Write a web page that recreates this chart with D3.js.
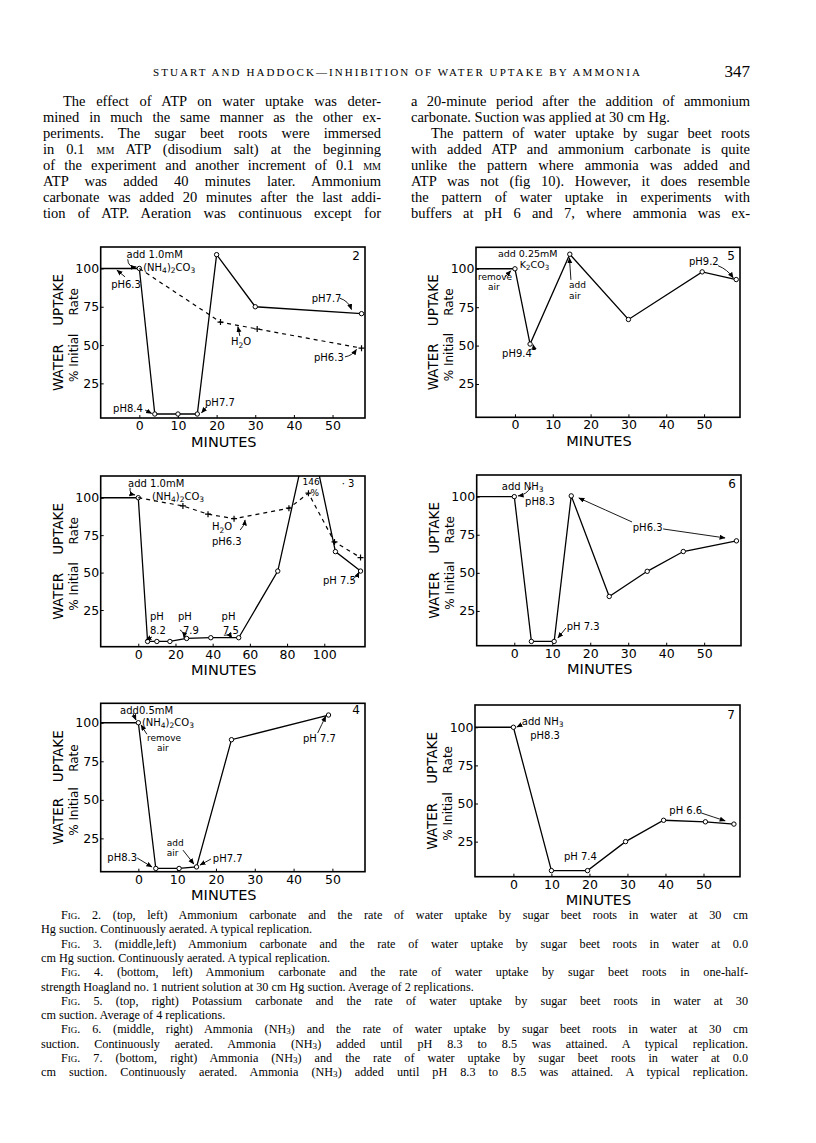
<!DOCTYPE html>
<html>
<head>
<meta charset="utf-8">
<script src="https://cdn.jsdelivr.net/npm/d3@7"></script>
<style>
  body { margin: 0; background: #fff; }
  .chart text { font-family: "DejaVu Sans", sans-serif; fill: #000; }
  .page text { font-family: "Liberation Serif", "Times New Roman", serif; fill: #000; }
</style>
</head>
<body>
<svg id="page" width="816" height="1143"></svg>
<script>
// ---- data (minutes, % of initial rate) ----
const yTicks = [25, 50, 75, 100];
const xTicksHour = [0, 10, 20, 30, 40, 50];
const xTicksLong = [0, 20, 40, 60, 80, 100];

// fig 2 : ammonium carbonate, 30 cm Hg
const fig2Minutes = [0, 4, 10, 15, 20, 30, 57.5];
const fig2Uptake = [100, 5, 5, 5, 109, 75, 70.5];
const fig2WaterMinutes = [0, 21, 30.5, 57.5];
const fig2WaterUptake = [100, 65, 60.5, 48];

// fig 5 : potassium carbonate
const fig5Minutes = [0, 4, 14.5, 30, 49.5, 58.5];
const fig5Uptake = [100, 51, 109.5, 67, 98, 93];

// fig 3 : ammonium carbonate, 0.0 cm Hg
const fig3Minutes = [0, 5, 10, 17, 26, 39, 54, 75, 92, 106, 119.5];
const fig3Uptake = [100, 4, 4, 4, 6, 6.5, 6.5, 51, 146, 64, 51];
const fig3WaterMinutes = [0, 24, 37.5, 51.5, 81, 91.5, 105.5, 119.5];
const fig3WaterUptake = [100, 94.5, 89, 86, 93, 103, 70.5, 60];

// fig 6 : ammonia, 30 cm
const fig6Minutes = [0, 4.5, 10.5, 15, 25, 35, 44.5, 58.5];
const fig6Uptake = [100, 5, 5, 100.5, 34.5, 51, 64, 71];

// fig 4 : half strength Hoagland
const fig4Minutes = [0, 4.5, 10.5, 15, 24, 49];
const fig4Uptake = [100, 5.5, 5.5, 6.5, 89, 105];

// fig 7 : ammonia, 0.0 cm
const fig7Minutes = [0, 10, 19.5, 29.5, 39.5, 50.5, 58];
const fig7Uptake = [100, 6, 6, 25, 39, 38, 36.5];

// ---- page text ----
const headerText = "STUART AND HADDOCK\u2014INHIBITION OF WATER UPTAKE BY AMMONIA";
const pageNumber = "347";
// [text, indented, justified]
const leftColumn = [
  ["The effect of ATP on water uptake was deter-", 1, 1],
  ["mined in much the same manner as the other ex-", 0, 1],
  ["periments. The sugar beet roots were immersed", 0, 1],
  ["in 0.1 {mm} ATP (disodium salt) at the beginning", 0, 1],
  ["of the experiment and another increment of 0.1 {mm}", 0, 1],
  ["ATP was added 40 minutes later. Ammonium", 0, 1],
  ["carbonate was added 20 minutes after the last addi-", 0, 1],
  ["tion of ATP. Aeration was continuous except for", 0, 1]
];
const rightColumn = [
  ["a 20-minute period after the addition of ammonium", 0, 1],
  ["carbonate. Suction was applied at 30 cm Hg.", 0, 0],
  ["The pattern of water uptake by sugar beet roots", 1, 1],
  ["with added ATP and ammonium carbonate is quite", 0, 1],
  ["unlike the pattern where ammonia was added and", 0, 1],
  ["ATP was not (fig 10). However, it does resemble", 0, 1],
  ["the pattern of water uptake in experiments with", 0, 1],
  ["buffers at pH 6 and 7, where ammonia was ex-", 0, 1]
];
const captionLines = [
  ["{Fig.} 2. (top, left) Ammonium carbonate and the rate of water uptake by sugar beet roots in water at 30 cm", 1, 1],
  ["Hg suction. Continuously aerated. A typical replication.", 0, 0],
  ["{Fig.} 3. (middle,left) Ammonium carbonate and the rate of water uptake by sugar beet roots in water at 0.0", 1, 1],
  ["cm Hg suction. Continuously aerated. A typical replication.", 0, 0],
  ["{Fig.} 4. (bottom, left) Ammonium carbonate and the rate of water uptake by sugar beet roots in one-half-", 1, 1],
  ["strength Hoagland no. 1 nutrient solution at 30 cm Hg suction. Average of 2 replications.", 0, 0],
  ["{Fig.} 5. (top, right) Potassium carbonate and the rate of water uptake by sugar beet roots in water at 30", 1, 1],
  ["cm suction. Average of 4 replications.", 0, 0],
  ["{Fig.} 6. (middle, right) Ammonia (NH_3) and the rate of water uptake by sugar beet roots in water at 30 cm", 1, 1],
  ["suction. Continuously aerated. Ammonia (NH_3) added until pH 8.3 to 8.5 was attained. A typical replication.", 0, 1],
  ["{Fig.} 7. (bottom, right) Ammonia (NH_3) and the rate of water uptake by sugar beet roots in water at 0.0", 1, 1],
  ["cm suction. Continuously aerated. Ammonia (NH_3) added until pH 8.3 to 8.5 was attained. A typical replication.", 0, 1]
];

const svg = d3.select("#page");
svg.append("rect").attr("width", 816).attr("height", 1143).attr("fill", "#fff");
const defs = svg.append("defs");
defs.append("marker")
  .attr("id", "arrow")
  .attr("markerUnits", "userSpaceOnUse")
  .attr("markerWidth", 7).attr("markerHeight", 6)
  .attr("refX", 5.5).attr("refY", 2.5)
  .attr("orient", "auto")
  .append("path").attr("d", "M0,0 L6,2.5 L0,5 Z").attr("fill", "#000");

// text with _x subscripts and {..} small caps
// drop is in em of the surrounding text
function richText(sel, str, drop = 0.3) {
  const parts = str.split(/(_.|\{[^}]*\})/).filter(s => s);
  let low = false;
  parts.forEach(p => {
    const t = sel.append("tspan");
    if (p[0] === "_") {
      // the tspan is at 0.75em, so its own em is smaller
      t.attr("dy", low ? null : (drop / 0.75) + "em").style("font-size", "0.75em").text(p[1]);
      low = true;
    } else {
      if (low) { t.attr("dy", -drop + "em"); low = false; }
      if (p[0] === "{") t.style("font-variant", "small-caps").text(p.slice(1, -1));
      else t.text(p);
    }
  });
  return sel;
}

// ---- header, body text, caption ----
const page = svg.append("g").attr("class", "page");
page.append("text").attr("x", 153).attr("y", 76)
  .attr("textLength", 487).attr("lengthAdjust", "spacing")
  .style("font-size", "11px").text(headerText);
page.append("text").attr("x", 750).attr("y", 77).attr("text-anchor", "end")
  .style("font-size", "17px").text(pageNumber);

function textLine(x, y, width, line, size, indent) {
  const [str, ind, just] = line;
  const x0 = x + (ind ? indent : 0);
  const w = width - (ind ? indent : 0);
  const t = page.append("text").attr("x", x0).attr("y", y).style("font-size", size + "px");
  richText(t, str, 0.09);
  if (just) {
    const plain = str.replace(/[{}_]/g, "");
    const gaps = (plain.match(/ /g) || []).length;
    const len = t.node().getComputedTextLength();
    if (gaps) t.style("word-spacing", ((w - len) / gaps) + "px");
  }
}
leftColumn.forEach((l, i) => textLine(43, 106 + i * 16, 338, l, 14.5, 20));
rightColumn.forEach((l, i) => textLine(411, 106 + i * 16, 339, l, 14.5, 20));
captionLines.forEach((l, i) => textLine(41, 919 + i * 14.3, 707, l, 12.2, 20));

// ---- the six panels ----
// notes: lines of text at (m, v); later lines shifted by dx px and stacked dy px apart
const panels = [
  {
    id: "2", frame: [100.7, 247, 365, 418], xDomain: [-10, 58.4], yDomain: [2.4, 114], xTicks: xTicksHour,
    series: [
      { minutes: fig2Minutes, values: fig2Uptake, dashed: false, mark: "o" },
      { minutes: fig2WaterMinutes, values: fig2WaterUptake, dashed: true, mark: "+" }
    ],
    notes: [
      { t: ["add 1.0mM", "(NH_4)_2CO_3"], m: -3.3, v: 109.3, dx: [0, 16.6], dy: 13 },
      { t: ["pH6.3"], m: -7.3, v: 89.8 }, { t: ["pH7.7"], m: 44.6, v: 80.6 },
      { t: ["H_2O"], m: 23.7, v: 52.1 }, { t: ["pH6.3"], m: 45.2, v: 42.1 },
      { t: ["pH8.4"], m: -6.8, v: 8.9 }, { t: ["pH7.7"], m: 17, v: 12.3 }
    ],
    arrows: [
      { from: [-3, 106], to: [-0.8, 101], bend: 3 }, { from: [-3.7, 94.5], to: [-5.8, 98.9], bend: 0 },
      { from: [51.9, 80.6], to: [54.9, 73.2], bend: -2 }, { from: [26, 56], to: [25.5, 62], bend: 0 },
      { from: [53.2, 42.3], to: [56.2, 47.2], bend: 1.5 }, { from: [1.5, 7.6], to: [3.2, 5.4], bend: 0 },
      { from: [17.4, 9.7], to: [16.1, 5.8], bend: 0 }
    ]
  },
  {
    id: "5", frame: [476, 247.3, 740, 417.3], xDomain: [-10.3, 59.5], yDomain: [3.3, 114], xTicks: xTicksHour,
    series: [{ minutes: fig5Minutes, values: fig5Uptake, dashed: false, mark: "o" }],
    notes: [
      { t: ["add 0.25mM", "K_2CO_3"], m: -4.5, v: 110, dx: [0, 21.9], dy: 11.2, size: 9.5 },
      { t: ["remove", "air"], m: -9.8, v: 95, dx: [0, 10], dy: 10.5, size: 9 },
      { t: ["add", "air"], m: 14.3, v: 89.5, dx: [0, 0], dy: 10.5, size: 9 },
      { t: ["pH9.2"], m: 46, v: 104.6 }, { t: ["pH9.4"], m: -3.4, v: 45.2 }
    ],
    arrows: [
      { from: [-2.6, 94.8], to: [-1.1, 98.7], bend: 0 }, { from: [14.8, 92.8], to: [14.4, 107.2], bend: 0 },
      { from: [53.7, 102], to: [57.7, 94.1], bend: -1.5 }, { from: [4, 47.4], to: [4.8, 50.6], bend: 1.5 }
    ]
  },
  {
    id: "3", frame: [100.7, 476, 365, 646.7], xDomain: [-20.2, 121.9], yDomain: [0.5, 114.5], xTicks: xTicksLong,
    series: [
      { minutes: fig3Minutes, values: fig3Uptake, dashed: false, mark: "o" },
      { minutes: fig3WaterMinutes, values: fig3WaterUptake, dashed: true, mark: "+" }
    ],
    notes: [
      { t: ["add 1.0mM", "(NH_4)_2CO_3"], m: -5.5, v: 109.8, dx: [0, 24], dy: 13 },
      { t: ["H_2O", "pH6.3"], m: 39.6, v: 80.6, dx: [0, 0], dy: 15 },
      { t: ["146", "%"], m: 88.3, v: 110.5, dx: [0, 8], dy: 10.5, size: 9 },
      { t: ["\u00b7  3"], m: 109.4, v: 109.8 }, { t: ["pH 7.5"], m: 99.3, v: 45 },
      { t: ["pH", "8.2"], m: 6.3, v: 20.5, dx: [0, 0], dy: 14 },
      { t: ["pH", "7.9"], m: 21.3, v: 20.5, dx: [0, 5], dy: 14 },
      { t: ["pH", "7.5"], m: 44.8, v: 20.5, dx: [0, 1.3], dy: 14 }
    ],
    arrows: [
      { from: [-4.4, 106.5], to: [-1.8, 101.8], bend: 2 }, { from: [54.8, 78.4], to: [57.4, 85.1], bend: 1 },
      { from: [114.4, 45], to: [118.7, 50.3], bend: 1 }, { from: [7.4, 7], to: [4.1, 5], bend: 0 },
      { from: [22.4, 11.7], to: [24.6, 6.4], bend: -1.5 }, { from: [46, 8.2], to: [50.4, 6.4], bend: -1.5 }
    ]
  },
  {
    id: "6", frame: [476.7, 475, 741, 645.7], xDomain: [-9.9, 59.7], yDomain: [2.2, 114.2], xTicks: xTicksHour,
    series: [{ minutes: fig6Minutes, values: fig6Uptake, dashed: false, mark: "o" }],
    notes: [
      { t: ["add NH_3", "pH8.3"], m: -3.3, v: 106.6, dx: [0, 23.3], dy: 15 },
      { t: ["pH6.3"], m: 31.2, v: 80.1 }, { t: ["pH 7.3"], m: 13.8, v: 14.7 }
    ],
    arrows: [
      { from: [4.4, 106.4], to: [1, 100.5], bend: -2 }, { from: [31, 83.4], to: [17, 99.1], bend: 0 },
      { from: [39.2, 78.8], to: [55.5, 72.9], bend: 0 }, { from: [13.6, 13.8], to: [11.5, 7.3], bend: 0 }
    ]
  },
  {
    id: "4", frame: [100.7, 703.3, 365, 871.7], xDomain: [-9.7, 58.4], yDomain: [3.4, 112.6], xTicks: xTicksHour,
    series: [{ minutes: fig4Minutes, values: fig4Uptake, dashed: false, mark: "o" }],
    notes: [
      { t: ["add0.5mM", "(NH_4)_2CO_3"], m: -4.7, v: 108.2, dx: [0, 21.8], dy: 12.3 },
      { t: ["remove", "air"], m: 2.2, v: 90.5, dx: [0, 10], dy: 10.5, size: 9 },
      { t: ["pH 7.7"], m: 42.4, v: 89.9 }, { t: ["pH8.3"], m: -8, v: 12.4 },
      { t: ["add", "air"], m: 7.3, v: 22.3, dx: [0, 0], dy: 10.5, size: 9 }, { t: ["pH7.7"], m: 19.2, v: 12.1 }
    ],
    arrows: [
      { from: [-1.4, 106.3], to: [-0.6, 101.8], bend: 0 }, { from: [2.2, 92.5], to: [0.7, 98.5], bend: 0 },
      { from: [46.2, 93.3], to: [48.3, 104.3], bend: 0 }, { from: [-0.3, 12.3], to: [3.5, 6.5], bend: 0 },
      { from: [11.5, 17.4], to: [14.3, 8.4], bend: 0 }, { from: [18.7, 11.6], to: [15.9, 7.7], bend: 0 }
    ]
  },
  {
    id: "7", frame: [475, 705, 740, 876.7], xDomain: [-10.1, 59.6], yDomain: [2, 114.6], xTicks: xTicksHour,
    series: [{ minutes: fig7Minutes, values: fig7Uptake, dashed: false, mark: "o" }],
    notes: [
      { t: ["add NH_3", "pH8.3"], m: 2.2, v: 103.7, dx: [0, 8.4], dy: 13.3 },
      { t: ["pH 6.6"], m: 41, v: 45.8 }, { t: ["pH 7.4"], m: 13.3, v: 15.1 }
    ],
    arrows: [
      { from: [2.0, 101.5], to: [0.9, 100.2], bend: 0 }, { from: [49.4, 43.8], to: [55.7, 38.6], bend: 0 }
    ]
  }
];

function drawPanel(p, idx) {
  const [L, T, R, B] = p.frame;
  const x = d3.scaleLinear().domain(p.xDomain).range([L, R]);
  const y = d3.scaleLinear().domain(p.yDomain).range([B, T]);
  const g = svg.append("g").attr("class", "chart");
  const clipId = "clip" + idx;
  defs.append("clipPath").attr("id", clipId)
    .append("rect").attr("x", L).attr("y", T).attr("width", R - L).attr("height", B - T);

  // axes
  const ya = g.append("g").attr("transform", `translate(${L},0)`)
    .call(d3.axisLeft(y).tickValues(yTicks).tickSize(-3).tickPadding(1.5));
  const xa = g.append("g").attr("transform", `translate(0,${B})`)
    .call(d3.axisBottom(x).tickValues(p.xTicks).tickSize(-3).tickPadding(3));
  [ya, xa].forEach(a => {
    a.select(".domain").remove();
    a.selectAll("line").attr("stroke", "#000").attr("stroke-width", 1);
    a.selectAll("text").style("font-size", "12.5px").attr("fill", "#000");
  });

  g.append("rect").attr("x", L).attr("y", T).attr("width", R - L).attr("height", B - T)
    .attr("fill", "none").attr("stroke", "#000").attr("stroke-width", 1.6);

  // titles
  g.append("text").attr("x", (L + R) / 2 - 9).attr("y", B + 23.5)
    .attr("text-anchor", "middle").attr("dominant-baseline", "central")
    .style("font-size", "14.5px").text("MINUTES");
  const ylab = (cx, cy, anchor, size, str) =>
    g.append("text").attr("transform", `translate(${cx},${cy}) rotate(-90)`)
      .attr("text-anchor", anchor).attr("dominant-baseline", "central")
      .style("font-size", size + "px").text(str);
  ylab(L - 43, B - 27, "start", 13.5, "WATER");
  ylab(L - 43, T + 27, "end", 13.5, "UPTAKE");
  ylab(L - 27, B - 36, "start", 12, "% Initial");
  ylab(L - 27, T + 41, "end", 12, "Rate");

  // panel number (fig 3 carries its own with a dot)
  if (p.id !== "3") {
    g.append("text").attr("x", R - 5).attr("y", y(108.5) + 4.2).attr("text-anchor", "end")
      .style("font-size", "12px").text(p.id);
  }

  const plot = g.append("g").attr("clip-path", `url(#${clipId})`);
  const line = d3.line().x(d => x(d[0])).y(d => y(d[1]));

  // level before the addition
  const s0 = p.series[0];
  plot.append("path")
    .attr("d", line([[p.xDomain[0], s0.values[0]], [s0.minutes[0], s0.values[0]]]))
    .attr("fill", "none").attr("stroke", "#000").attr("stroke-width", 1.4);

  p.series.forEach(s => {
    const pts = s.minutes.map((m, i) => [m, s.values[i]]);
    plot.append("path").attr("d", line(pts))
      .attr("fill", "none").attr("stroke", "#000").attr("stroke-width", s.dashed ? 1.2 : 1.3)
      .attr("stroke-dasharray", s.dashed ? "4,4" : null);
    const shown = pts.filter((d, i) => d[1] <= p.yDomain[1] && !(s.mark === "+" && i === 0));
    if (s.mark === "o") {
      plot.selectAll(null).data(shown).enter().append("circle")
        .attr("cx", d => x(d[0])).attr("cy", d => y(d[1])).attr("r", 2.2)
        .attr("fill", "#fff").attr("stroke", "#000").attr("stroke-width", 1);
    } else {
      plot.selectAll(null).data(shown).enter().append("path")
        .attr("transform", d => `translate(${x(d[0])},${y(d[1])})`)
        .attr("d", "M-3,0H3M0,-3V3").attr("stroke", "#000").attr("stroke-width", 1.2);
    }
  });

  // annotations
  p.notes.forEach(n => {
    const size = n.size || 10;
    const x0 = x(n.m), y0 = y(n.v) + size * 0.36;
    const t = g.append("text").style("font-size", size + "px");
    n.t.forEach((str, i) => {
      const row = t.append("tspan")
        .attr("x", x0 + (n.dx ? n.dx[i] : 0))
        .attr("y", y0 + i * (n.dy || 0));
      richText(row, str, 0.22);
    });
  });
  p.arrows.forEach(a => {
    const x1 = x(a.from[0]), y1 = y(a.from[1]), x2 = x(a.to[0]), y2 = y(a.to[1]);
    const dx = x2 - x1, dy = y2 - y1, len = Math.hypot(dx, dy) || 1;
    const cx = (x1 + x2) / 2 - dy / len * a.bend * 2, cy = (y1 + y2) / 2 + dx / len * a.bend * 2;
    g.append("path").attr("d", `M${x1},${y1} Q${cx},${cy} ${x2},${y2}`)
      .attr("fill", "none").attr("stroke", "#000").attr("stroke-width", 0.9)
      .attr("marker-end", "url(#arrow)");
  });
}

panels.forEach(drawPanel);
</script>
</body>
</html>
